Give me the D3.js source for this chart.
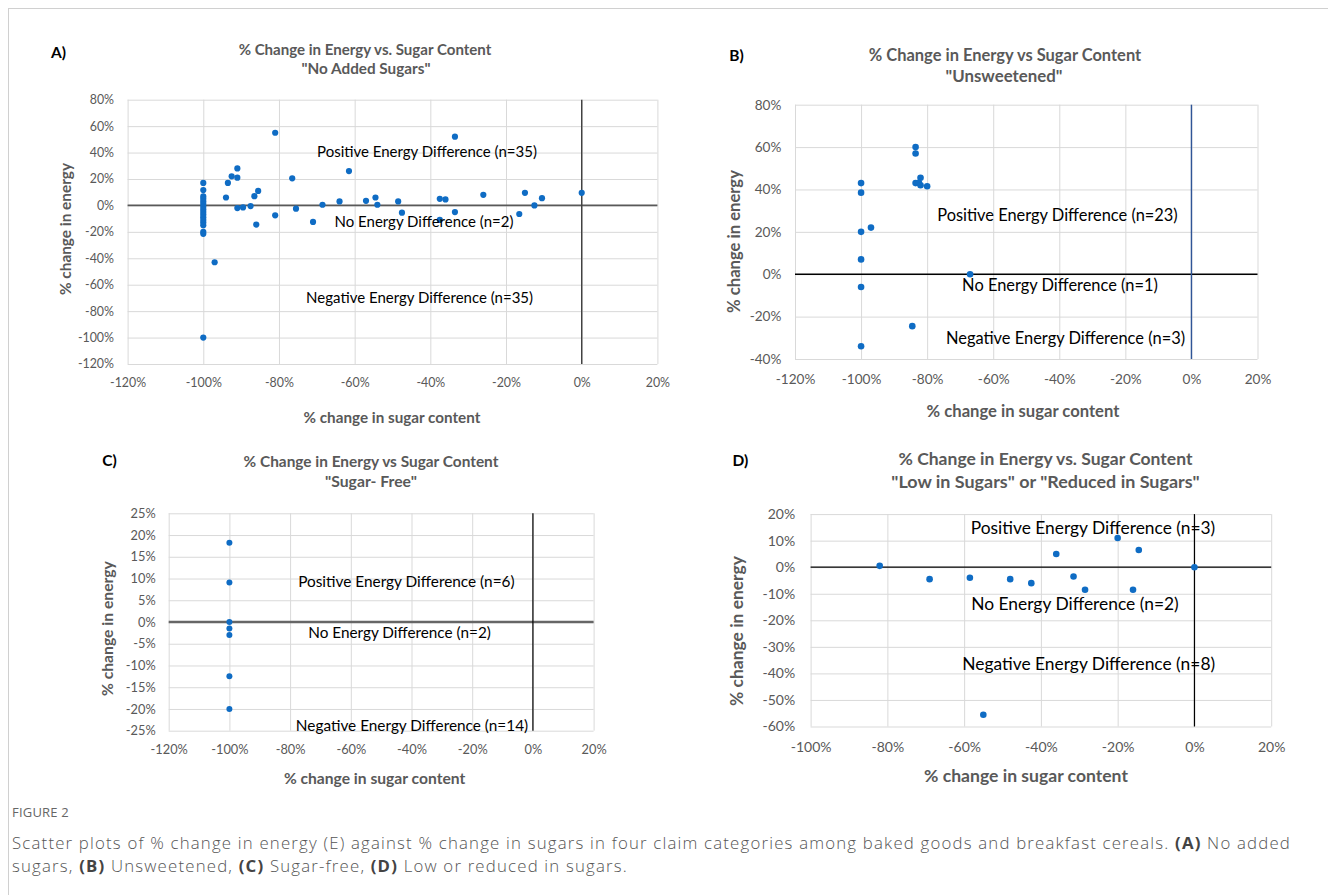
<!DOCTYPE html>
<html><head><meta charset="utf-8">
<script src="https://cdn.jsdelivr.net/npm/d3@7"></script>
<style>body{margin:0;background:#fff;} svg{display:block;}</style>
</head><body>
<svg id="fig" width="1328" height="895"></svg>
<script>
// ---------- DATA ----------
// Panel A: "No Added Sugars"
const aSugar  = [-100,-100,-100,-100,-100,-100,-100,-100,-100,-100,-100,-100,-100,-100,-100,-100,
                 -81,-33.5,-91,-92.5,-91,-93.5,-76.5,-61.5,-94,-86.5,-85.5,-91,-89.5,-87.5,-86,-81,-75.5,-71,-68.5,-64,-57,-54.5,-54,-48.5,-47.5,-37.5,-36,-37.5,-33.5,-26,-16.5,-15,-12.5,-10.5,0,-97,-100];
const aEnergy = [17,11.6,6.8,5,3,1,-1,-3,-5,-7,-9,-11,-13,-15,-20,-21.5,
                 55,52,28,22,21,17,20.5,26,6,7,11,-2,-1.5,-0.5,-14.5,-7.5,-2.5,-12.5,0.5,3,3.5,6,0.5,3,-5.5,5,4.5,-11,-5,8,-6.5,9.5,0,5.5,9.5,-43,-100];
// Panel B: "Unsweetened"
const bSugar  = [-100,-100,-100,-97,-100,-100,-100,-83.5,-83.5,-82,-83.5,-82.5,-82,-80,-84.5,-67];
const bEnergy = [43,38.5,20,22,7,-6,-34,60,57,45.5,43,43.2,42,41.5,-24.5,0];
// Panel C: "Sugar- Free"
const cSugar  = [-100,-100,-100,-100,-100,-100,-100];
const cEnergy = [18.2,9.1,0,-1.5,-3,-12.5,-20];
// Panel D: "Low in Sugars" or "Reduced in Sugars"
const dSugar  = [-82,-69,-58.5,-48,-42.5,-36,-31.5,-28.5,-20,-14.5,-16,0,-55];
const dEnergy = [0.5,-4.5,-4,-4.5,-6,5,-3.5,-8.5,11,6.5,-8.5,0,-55.6];

// Tick values
const xTicks120 = [-120,-100,-80,-60,-40,-20,0,20];
const xTicks100 = [-100,-80,-60,-40,-20,0,20];
const yTicksA = [-120,-100,-80,-60,-40,-20,0,20,40,60,80];
const yTicksB = [-40,-20,0,20,40,60,80];
const yTicksC = [-25,-20,-15,-10,-5,0,5,10,15,20,25];
const yTicksD = [-60,-50,-40,-30,-20,-10,0,10,20];

// Texts
const panelLetters = ["A)","B)","C)","D)"];
const titleLine1 = ["% Change in Energy vs. Sugar Content","% Change in Energy vs Sugar Content","% Change in Energy vs Sugar Content","% Change in Energy vs. Sugar Content"];
const titleLine2 = ["\"No Added Sugars\"","\"Unsweetened\"","\"Sugar- Free\"","\"Low in Sugars\" or \"Reduced in Sugars\""];
const posLabels = ["Positive Energy Difference (n=35)","Positive Energy Difference (n=23)","Positive Energy Difference (n=6)","Positive Energy Difference (n=3)"];
const noLabels  = ["No Energy Difference (n=2)","No Energy Difference (n=1)","No Energy Difference (n=2)","No Energy Difference (n=2)"];
const negLabels = ["Negative Energy Difference (n=35)","Negative Energy Difference (n=3)","Negative Energy Difference (n=14)","Negative Energy Difference (n=8)"];
const xTitle = "% change in sugar content";
const yTitle = "% change in energy";

// ---------- LAYOUT ----------
const FONT = "Lato, 'Open Sans', sans-serif";
const DOT = "#0f6cc4";
const layouts = [
  {x0:127.6,x1:657.4,y0:99.7,y1:364, xDomain:[-120,20], yDomain:[-120,80], xTicks:xTicks120, yTicks:yTicksA,
   yLabRight:114, xLabY:382.7, tick:12.4, r:3.1,
   letter:[58.5,52.7], t1:[365,49.3,253], t2:[366,69,129],
   pos:[427,152,220], no:[424,222,179], neg:[419.6,298,227],
   xt:[392,417.7,177], yt:[65.5,229,132],
   hz:{c:"#595959",w:1.6}, vz:{c:"#404040",w:1.4}},
  {x0:795,x1:1257.5,y0:104.7,y1:359, xDomain:[-120,20], yDomain:[-40,80], xTicks:xTicks120, yTicks:yTicksB,
   yLabRight:781.4, xLabY:379.3, tick:13.6, r:3.3,
   letter:[736.5,56], t1:[1005,55.7,272.5], t2:[1004,75.7,117],
   pos:[1057.5,215.7,240.7], no:[1060,285,196], neg:[1065.5,338.3,239.5],
   xt:[1023,411,193], yt:[734.5,241.5,143],
   hz:{c:"#000",w:1.3}, vz:{c:"#2f5597",w:1.4}},
  {x0:168.7,x1:593.6,y0:513.3,y1:730.7, xDomain:[-120,20], yDomain:[-25,25], xTicks:xTicks120, yTicks:yTicksC,
   yLabRight:155.7, xLabY:750, tick:12.8, r:3,
   letter:[109.6,460.2], t1:[371,461.2,255], t2:[371,481.4,92],
   pos:[406.4,581.7,216.7], no:[399.6,633,182.8], neg:[412,725.2,232.6],
   xt:[374.6,778.4,181.6], yt:[107.5,628.6,135],
   hz:{c:"#666",w:2.4}, vz:{c:"#000",w:1.2}},
  {x0:810.6,x1:1271.2,y0:514.1,y1:726.5, xDomain:[-100,20], yDomain:[-60,20], xTicks:xTicks100, yTicks:yTicksD,
   yLabRight:795.2, xLabY:747.4, tick:14, r:3.3,
   letter:[740.3,460.2], t1:[1045.5,458.5,294], t2:[1045.5,481.4,308.6],
   pos:[1093,528.2,244.5], no:[1075,604,207.7], neg:[1088.7,663.9,253],
   xt:[1026,775.4,204], yt:[737.2,631,150],
   hz:{c:"#000",w:1.3}, vz:{c:"#000",w:1.2}}
];
const series = [[aSugar,aEnergy],[bSugar,bEnergy],[cSugar,cEnergy],[dSugar,dEnergy]];

const svg = d3.select("#fig");
svg.append("rect").attr("x",0).attr("y",0).attr("width",1328).attr("height",895).attr("fill","#fff");
svg.append("rect").attr("x",8.5).attr("y",8.5).attr("width",1340).attr("height",900)
   .attr("fill","none").attr("stroke","#d0d0d0").attr("stroke-width",1);

function fit(t, w) {
  const cur = t.node().getComputedTextLength();
  const fs = parseFloat(t.attr("font-size"));
  if (cur > 0) t.attr("font-size", fs * w / cur);
  return t;
}
function label(g, txt, pos, opts) {
  const t = g.append("text").text(txt)
    .attr("x", pos[0]).attr("y", pos[1]).attr("dy","0.35em")
    .attr("text-anchor","middle").attr("font-family",FONT)
    .attr("font-size", opts.size || 14)
    .attr("font-weight", opts.bold ? 700 : 400)
    .attr("fill", opts.fill || "#000");
  if (pos[2]) fit(t, pos[2]);
  return t;
}

layouts.forEach((P, k) => {
  const [sx, sy] = series[k];
  const g = svg.append("g");
  const x = d3.scaleLinear().domain(P.xDomain).range([P.x0, P.x1]);
  const y = d3.scaleLinear().domain(P.yDomain).range([P.y1, P.y0]);

  const ya = g.append("g").attr("transform", `translate(${P.x0},0)`)
    .call(d3.axisLeft(y).tickValues(P.yTicks).tickSize(-(P.x1 - P.x0))
      .tickPadding(P.x0 - P.yLabRight).tickFormat(d => d + "%"));
  ya.select(".domain").remove();
  ya.selectAll(".tick line").attr("stroke", "#d9d9d9");
  ya.selectAll(".tick text").attr("fill", "#595959").attr("font-size", P.tick).attr("font-family", FONT);

  const xa = g.append("g").attr("transform", `translate(0,${P.y1})`)
    .call(d3.axisBottom(x).tickValues(P.xTicks).tickSize(-(P.y1 - P.y0)).tickFormat(d => d + "%"));
  xa.select(".domain").remove();
  xa.selectAll(".tick line").attr("stroke", "#d9d9d9");
  xa.selectAll(".tick text").attr("y", P.xLabY - P.y1).attr("dy", "0.35em")
    .attr("fill", "#595959").attr("font-size", P.tick).attr("font-family", FONT);

  // zero lines
  g.append("line").attr("x1", P.x0).attr("x2", P.x1).attr("y1", y(0)).attr("y2", y(0))
    .attr("stroke", P.hz.c).attr("stroke-width", P.hz.w);
  g.append("line").attr("x1", x(0)).attr("x2", x(0)).attr("y1", P.y0).attr("y2", P.y1)
    .attr("stroke", P.vz.c).attr("stroke-width", P.vz.w);

  // points
  g.append("g").selectAll("circle").data(d3.range(sx.length)).join("circle")
    .attr("cx", i => x(sx[i])).attr("cy", i => y(sy[i])).attr("r", P.r).attr("fill", DOT);

  // texts
  label(g, panelLetters[k], P.letter, {size: 15.5, bold: true});
  label(g, titleLine1[k], P.t1, {bold: true, fill: "#595959"});
  label(g, titleLine2[k], P.t2, {bold: true, fill: "#595959"});
  label(g, posLabels[k], P.pos, {});
  label(g, noLabels[k], P.no, {});
  label(g, negLabels[k], P.neg, {});
  label(g, xTitle, P.xt, {bold: true, fill: "#595959"});
  const yt = label(g, yTitle, [0, 0, P.yt[2]], {bold: true, fill: "#595959"});
  yt.attr("transform", `translate(${P.yt[0]},${P.yt[1]}) rotate(-90)`);
});

// caption
const CAPFONT = "'Open Sans', 'Noto Sans', sans-serif";
svg.append("text").text("FIGURE 2").attr("x", 12).attr("y", 812).attr("dy", "0.35em")
  .attr("font-family", CAPFONT).attr("font-size", 13).attr("fill", "#666").attr("letter-spacing", 0.2);
const capLines = [
  [["Scatter plots of % change in energy (E) against % change in sugars in four claim categories among baked goods and breakfast cereals. ", 0], ["(A)", 1], [" No added", 0]],
  [["sugars, ", 0], ["(B)", 1], [" Unsweetened, ", 0], ["(C)", 1], [" Sugar-free, ", 0], ["(D)", 1], [" Low or reduced in sugars.", 0]]
];
const capY = [843, 866];
const CAPSIZE = 16.8;
const capEls = capLines.map((parts, i) => {
  const t = svg.append("text").attr("x", 12).attr("y", capY[i]).attr("dy", "0.35em")
    .attr("font-family", CAPFONT).attr("font-size", CAPSIZE).attr("fill", "#555");
  parts.forEach(p => t.append("tspan").text(p[0]).attr("font-weight", p[1] ? 700 : 300).attr("fill", p[1] ? "#444" : "#555"));
  return t;
});
// small extra spacing so line 1 spans the reference width
const w1 = capEls[0].node().getComputedTextLength();
const n1 = capLines[0].map(p => p[0]).join("").length;
const ls = Math.max(0, (1279 - w1) / n1);
capEls.forEach(t => t.attr("letter-spacing", ls));
</script>
</body></html>
